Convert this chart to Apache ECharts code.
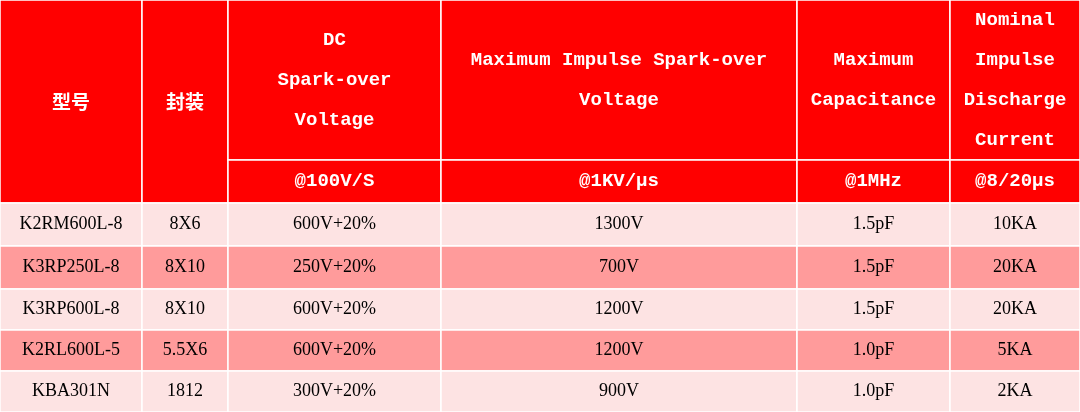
<!DOCTYPE html>
<html><head><meta charset="utf-8">
<script src="https://cdn.jsdelivr.net/npm/echarts@6/dist/echarts.min.js"></script>
<style>html,body{margin:0;padding:0;background:#fff}#c{width:1080px;height:412px}</style>
</head><body><div id="c"></div>
<script>
const headers = ['型号','封装','DC\nSpark-over\nVoltage','Maximum Impulse Spark-over\nVoltage','Maximum\nCapacitance','Nominal\nImpulse\nDischarge\nCurrent'];
const subHeaders = ['@100V/S','@1KV/μs','@1MHz','@8/20μs'];
const models = ['K2RM600L-8','K3RP250L-8','K3RP600L-8','K2RL600L-5','KBA301N'];
const packages = ['8X6','8X10','8X10','5.5X6','1812'];
const dcVoltage = ['600V+20%','250V+20%','600V+20%','600V+20%','300V+20%'];
const impulseVoltage = ['1300V','700V','1200V','1200V','900V'];
const capacitance = ['1.5pF','1.5pF','1.5pF','1.0pF','1.0pF'];
const current = ['10KA','20KA','20KA','5KA','2KA'];

// layout (pixel-based scale edges)
const colEdges = [0,142,228,441,797,950,1080];
const rowEdges = [0,160,203,246,289,330,371,412];
const RED='#FF0000', LIGHT='#FDE3E3', DARK='#FF9B9B';

const cells = [];
headers.forEach((h,i)=>{ cells.push({c:[i,i+1], r: i<2?[0,2]:[0,1], text:h, fill:RED, color:'#fff', head:true}); });
subHeaders.forEach((s,i)=>{ cells.push({c:[i+2,i+3], r:[1,2], text:s, fill:RED, color:'#fff', head:true}); });
const cols=[models,packages,dcVoltage,impulseVoltage,capacitance,current];
models.forEach((_,ri)=>{ cols.forEach((col,ci)=>{ cells.push({c:[ci,ci+1], r:[ri+2,ri+3], text:col[ri], fill: ri%2? DARK:LIGHT, color:'#000', head:false}); }); });

const chart = echarts.init(document.getElementById('c'));
chart.setOption({
  animation:false,
  grid:{left:0,right:0,top:0,bottom:0},
  xAxis:{type:'value',min:0,max:1080,show:false},
  yAxis:{type:'value',min:0,max:412,inverse:true,show:false},
  series:[{
    type:'custom',
    data: cells.map((c,i)=>[i]),
    renderItem:(params,api)=>{
      const cell = cells[params.dataIndex];
      const p0 = api.coord([colEdges[cell.c[0]], rowEdges[cell.r[0]]]);
      const p1 = api.coord([colEdges[cell.c[1]], rowEdges[cell.r[1]]]);
      const isCJK = /[\u4e00-\u9fff]/.test(cell.text);
      return {type:'group', children:[
        {type:'rect', shape:{x:p0[0],y:p0[1],width:p1[0]-p0[0],height:p1[1]-p0[1]},
         style:{fill:cell.fill, stroke:'#fff', lineWidth:1.5}},
        {type:'text', style:{x:(p0[0]+p1[0])/2, y:(p0[1]+p1[1])/2, text:cell.text,
          align:'center', verticalAlign:'middle', fill:cell.color,
          font: isCJK ? 'bold 19px "Noto Sans CJK SC"' : (cell.head ? '600 19px "Liberation Mono"' : '18px "Liberation Serif"'),
          lineHeight: cell.head ? 40 : 20}}
      ]};
    }
  }]
});
</script></body></html>
